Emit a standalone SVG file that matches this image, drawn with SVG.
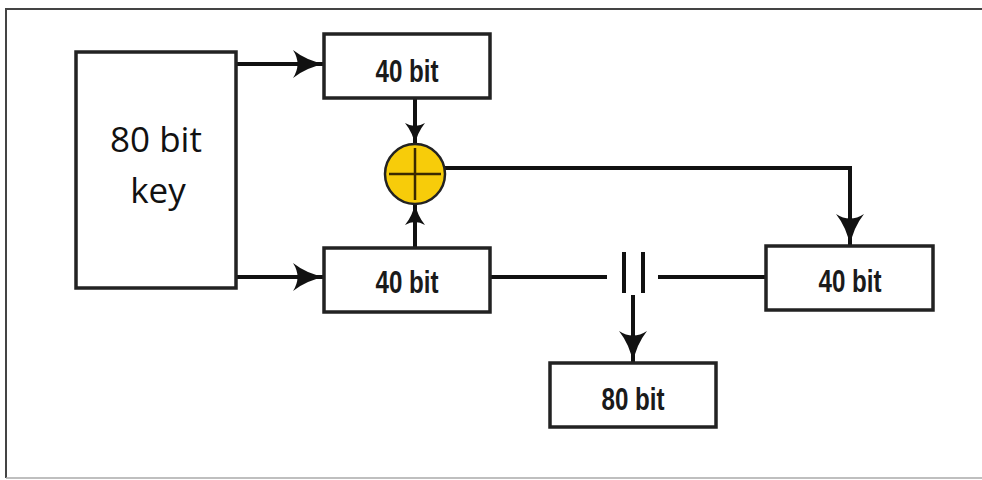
<svg xmlns="http://www.w3.org/2000/svg" width="982" height="480" viewBox="0 0 982 480">
<style>
.box{fill:#fff;stroke:#222;stroke-width:3.5}
.lbl{font-family:"Liberation Sans",Arial,sans-serif;font-size:31px;font-weight:bold;fill:#1a1a1a;text-anchor:middle}
.big{font-family:"Open Sans","Noto Sans",sans-serif;font-size:35px;fill:#111;text-anchor:middle}
.ln{fill:none;stroke:#111;stroke-width:4}
.head{fill:#111}
</style>
<defs>
<marker id="ah" viewBox="0 0 32 28" refX="31" refY="14" markerWidth="32" markerHeight="28" markerUnits="userSpaceOnUse" orient="auto">
<path class="head" d="M0,0 Q14,11 32,14 Q14,17 0,28 Q9,14 0,0Z"/>
</marker>
<marker id="ahs" viewBox="0 0 22 20" refX="21" refY="10" markerWidth="22" markerHeight="20" markerUnits="userSpaceOnUse" orient="auto">
<path class="head" d="M0,0 Q10,8 22,10 Q10,12 0,20 Q6,10 0,0Z"/>
</marker>
</defs>
<g id="frame" fill="none">
<path d="M6,478 V9 H982" stroke="#444" stroke-width="2"/>
<path d="M6,478 H982" stroke="#aaa" stroke-width="1.5"/>
</g>
<g id="connectors">
<path class="ln" d="M237,64 H324" stroke-width="4.5" marker-end="url(#ah)"/>
<path class="ln" d="M237,277 H324" stroke-width="4.5" marker-end="url(#ah)"/>
<path class="ln" d="M415,98 V144" stroke-width="3" marker-end="url(#ahs)"/>
<path class="ln" d="M415,248 V204" stroke-width="3" marker-end="url(#ahs)"/>
<path class="ln" d="M445,168 H850 V245" marker-end="url(#ah)"/>
<path class="ln" d="M490,277 H607"/>
<path class="ln" d="M658,277 H766"/>
<path class="ln" d="M624,252 V293 M643,252 V293" stroke-width="5"/>
<path class="ln" d="M633,295 V362" marker-end="url(#ah)"/>
</g>
<g id="key">
<rect class="box" x="76" y="52" width="160" height="236"/>
<text class="big" x="156" y="152">80 bit</text>
<text class="big" x="158" y="203">key</text>
</g>
<g id="top40">
<rect class="box" x="324" y="34" width="166" height="64"/>
<text class="lbl" x="407" y="82" textLength="63" lengthAdjust="spacingAndGlyphs">40 bit</text>
</g>
<g id="xor">
<circle cx="415" cy="174" r="30" fill="#F7CC0A" stroke="#222" stroke-width="2.5"/>
<path d="M389,174 H441 M415,148 V200" stroke="#3a2a00" stroke-width="2.5"/>
</g>
<g id="bot40">
<rect class="box" x="324" y="248" width="166" height="64"/>
<text class="lbl" x="407" y="293" textLength="63" lengthAdjust="spacingAndGlyphs">40 bit</text>
</g>
<g id="right40">
<rect class="box" x="766" y="246" width="167" height="64"/>
<text class="lbl" x="850" y="292" textLength="63" lengthAdjust="spacingAndGlyphs">40 bit</text>
</g>
<g id="out80">
<rect class="box" x="550" y="363" width="166" height="64"/>
<text class="lbl" x="633" y="410" textLength="63" lengthAdjust="spacingAndGlyphs">80 bit</text>
</g>
</svg>
